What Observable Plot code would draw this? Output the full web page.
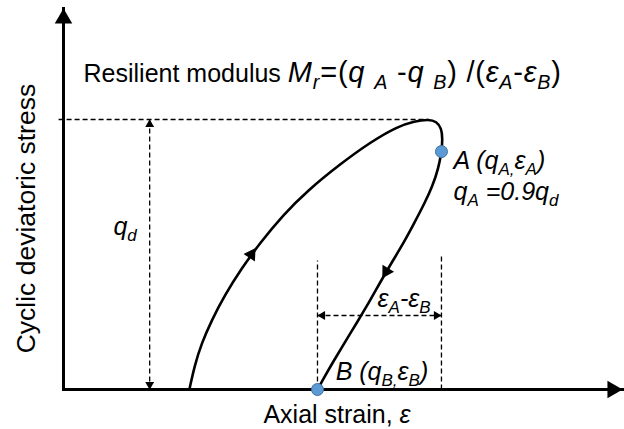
<!DOCTYPE html>
<html><head><meta charset="utf-8">
<script src="https://cdn.jsdelivr.net/npm/d3@7"></script>
<script src="https://cdn.jsdelivr.net/npm/@observablehq/plot@0.6"></script>
<style>html,body{margin:0;padding:0;background:#fff;} svg{display:block;}</style>
</head><body><div id="chart"></div>
<script>
// Strain in units of eps_A, stress in units of q_d (schematic)
const loadingStrain = [0.333,0.347,0.365,0.392,0.426,0.471,0.519,0.582,0.646,0.730,0.815,0.884,0.929,0.966,0.987,1.000,1.003,1.000];
const loadingStress = [0,0.089,0.170,0.256,0.348,0.448,0.541,0.648,0.737,0.833,0.919,0.974,0.994,1.000,0.993,0.967,0.930,0.881];
const unloadingStrain = [1.000,0.992,0.976,0.955,0.929,0.902,0.870,0.839,0.810,0.778,0.746,0.714,0.685,0.672];
const unloadingStress = [0.881,0.819,0.752,0.689,0.619,0.548,0.474,0.400,0.326,0.252,0.178,0.104,0.033,0];
const pointNames = ["A", "B"];
const pointStrain = [1.000, 0.672];
const pointStress = [0.881, 0];
const qd = 1;
const strainMax = 1.479, stressMax = 1.411;
const qdGuideStrain = 0.228;
const topDashStrain = [-0.013, 0.966];
const guideTopStress = [0.504, 0.478]; // above eps_A, eps_B
const spanStress = 0.274;
const flowStrain = [0.497, 0.854];
const flowStress = [0.500, 0.437];
const flowAngle = [33, 211];

const labelText = [
  "Resilient modulus ~*M_{r}*=(*q _{A}* -*q _{B}*) /(*ε_{A}*-*ε_{B}*)~",
  "*A (q_{A,}ε_{A})*",
  "*q_{A} =0.9q_{d}*",
  "*q_{d}*",
  "*ε_{A}-ε_{B}*",
  "*B (q_{B,}ε_{B})*"
];
const labelStrain = [0.053, 1.032, 1.032, 0.132, 0.831, 0.720];
const labelStress = [1.167, 0.848, 0.733, 0.600, 0.337, 0.063];
const xTitle = "Axial strain, *ε*";
const xTitleAt = {x: 0.529, y: -0.093};
const yTitle = "Cyclic deviatoric stress";
const yTitleAt = {x: -0.098, y: 0.633};

const FONT = "Liberation Sans, Arial, Helvetica, sans-serif";
const FS = 25, FS_AXIS = 26.5, FS_FORMULA = 29;

const loading = loadingStrain.map((x, i) => ({x, y: loadingStress[i]}));
const unloading = unloadingStrain.map((x, i) => ({x, y: unloadingStress[i]}));
const points = pointNames.map((n, i) => ({n, x: pointStrain[i], y: pointStress[i]}));
const epsA = pointStrain[0], epsB = pointStrain[1];
const dashed = [
  {x1: topDashStrain[0], y1: qd, x2: topDashStrain[1], y2: qd},
  {x1: qdGuideStrain, y1: 0, x2: qdGuideStrain, y2: qd},
  {x1: epsA, y1: 0, x2: epsA, y2: guideTopStress[0]},
  {x1: epsB, y1: 0, x2: epsB, y2: guideTopStress[1]},
  {x1: epsB, y1: spanStress, x2: epsA, y2: spanStress}
];
const axes = [
  {x1: 0, y1: 0, x2: 0, y2: stressMax},
  {x1: 0, y1: 0, x2: strainMax, y2: 0}
];
const labels = labelText.map((t, i) => ({t, x: labelStrain[i], y: labelStress[i]}));
const flows = flowStrain.map((x, i) => ({x, y: flowStress[i], a: flowAngle[i]}));

const tri = (data, rotate, dx, dy, r) => Plot.dot(data, {x: "x", y: "y", symbol: "triangle", r, fill: "black", stroke: "none", rotate, dx, dy});

const svg = Plot.plot({
  width: 624, height: 429,
  marginLeft: 63, marginRight: 2, marginTop: 8, marginBottom: 40,
  x: {domain: [0, strainMax], axis: null},
  y: {domain: [0, stressMax], axis: null},
  style: {fontFamily: FONT, background: "white", overflow: "visible"},
  marks: [
    Plot.link(dashed, {x1: "x1", y1: "y1", x2: "x2", y2: "y2", stroke: "black", strokeWidth: 1.3, strokeDasharray: "5,3"}),
    tri([{x: qdGuideStrain, y: qd}], 0, 0, 5, 3.3),
    tri([{x: qdGuideStrain, y: 0}], 180, 0, -5, 3.3),
    tri([{x: epsB, y: spanStress}], -90, 5, 0, 3.3),
    tri([{x: epsA, y: spanStress}], 90, -5, 0, 3.3),
    Plot.link(axes, {x1: "x1", y1: "y1", x2: "x2", y2: "y2", stroke: "black", strokeWidth: 3, strokeLinecap: "square"}),
    tri([{x: 0, y: stressMax}], 0, 0, 10, 6.5),
    tri([{x: strainMax, y: 0}], 90, -10, 0, 6.5),
    Plot.line(loading, {x: "x", y: "y", curve: "basis", stroke: "black", strokeWidth: 2.6, strokeLinejoin: "round"}),
    Plot.line(unloading, {x: "x", y: "y", curve: "basis", stroke: "black", strokeWidth: 2.6, strokeLinejoin: "round"}),
    Plot.dot(flows.slice(0, 1), {x: "x", y: "y", symbol: "triangle", r: 5, fill: "black", rotate: flowAngle[0]}),
    Plot.dot(flows.slice(1, 2), {x: "x", y: "y", symbol: "triangle", r: 5, fill: "black", rotate: flowAngle[1]}),
    Plot.dot(points, {x: "x", y: "y", r: 6, fill: "#5b9bd5", stroke: "#41719c", strokeWidth: 1}),
    Plot.text(labels, {x: "x", y: "y", text: "t", textAnchor: "start", lineAnchor: "middle", fontSize: FS, fontFamily: FONT, fill: "black"}),
    Plot.text([xTitleAt], {x: "x", y: "y", text: () => xTitle, textAnchor: "start", lineAnchor: "middle", fontSize: FS_AXIS, fontFamily: FONT, fill: "black"}),
    Plot.text([yTitleAt], {x: "x", y: "y", text: () => yTitle, rotate: -90, textAnchor: "middle", lineAnchor: "middle", fontSize: FS_AXIS, fontFamily: FONT, fill: "black"})
  ]
});

function parseRich(src) {
  const segs = []; let italic = false, sub = false, big = false, buf = "";
  const push = () => { if (buf) segs.push({t: buf, italic, sub, big}); buf = ""; };
  for (let i = 0; i < src.length; i++) {
    const c = src[i];
    if (c === "*") { push(); italic = !italic; }
    else if (c === "~") { push(); big = !big; }
    else if (c === "_" && src[i + 1] === "{") { push(); sub = true; i++; }
    else if (c === "}" && sub) { push(); sub = false; }
    else buf += c;
  }
  push();
  return segs;
}
svg.querySelectorAll("text").forEach(el => {
  const src = el.textContent;
  if (!/[*_~]/.test(src)) return;
  const base = parseFloat(el.getAttribute("font-size")) || FS;
  const segs = parseRich(src);
  el.textContent = "";
  let cur = 0;
  for (const s of segs) {
    const ts = document.createElementNS("http://www.w3.org/2000/svg", "tspan");
    const size = s.big ? FS_FORMULA : base;
    if (s.italic) ts.setAttribute("font-style", "italic");
    if (s.big) ts.setAttribute("letter-spacing", "0.8");
    const target = s.sub ? size * 0.24 : 0;
    if (target !== cur) { ts.setAttribute("dy", target - cur); cur = target; }
    ts.setAttribute("font-size", s.sub ? size * 0.68 : size);
    ts.textContent = s.t;
    el.appendChild(ts);
  }
});
document.getElementById("chart").appendChild(svg);
</script>
</body></html>
